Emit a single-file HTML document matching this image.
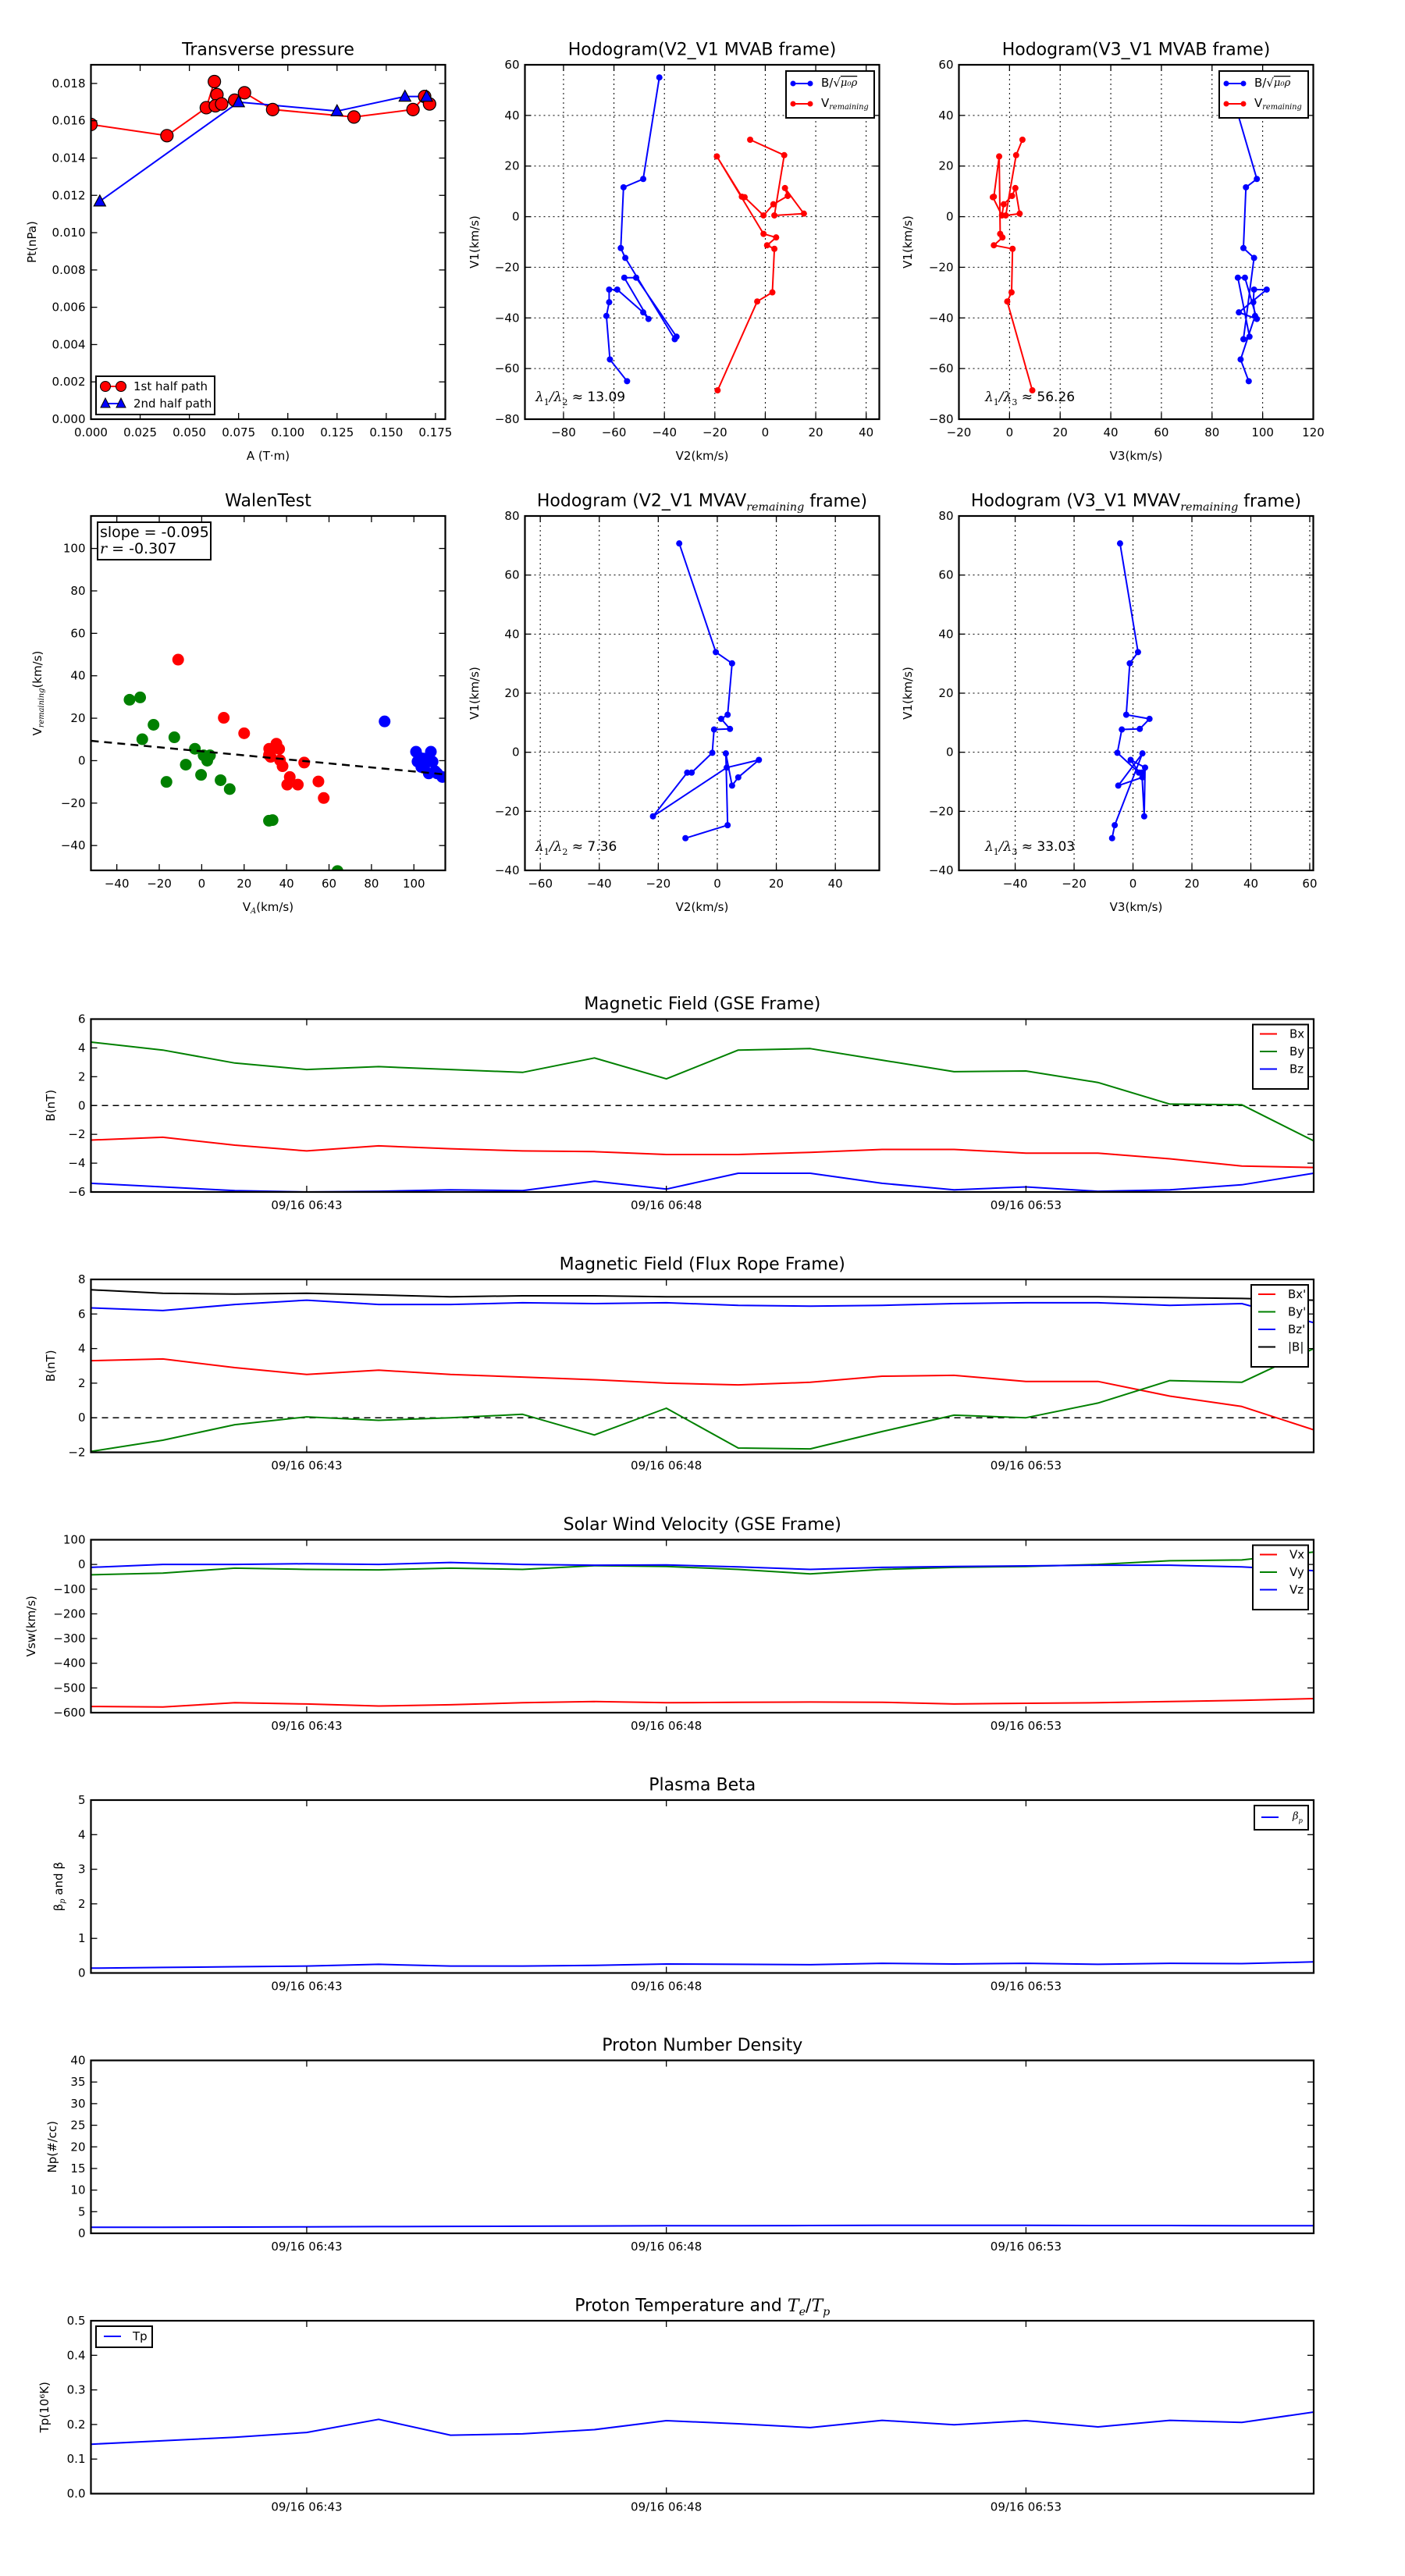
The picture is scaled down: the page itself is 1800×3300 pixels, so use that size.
<!DOCTYPE html>
<html><head><meta charset="utf-8"><title>Flux rope analysis</title>
<style>
html,body{margin:0;padding:0;background:#fff;}
svg{display:block;font-family:"DejaVu Sans","Liberation Sans",sans-serif;}
</style></head>
<body>
<svg id="fig" width="1800" height="3300" viewBox="0 0 1800 3300" xmlns="http://www.w3.org/2000/svg"></svg>
<script>
// ---------------- DATA ----------------
// Transverse pressure
const ptA1 = [0,0.0386,0.0586,0.0627,0.0640,0.0632,0.0664,0.0730,0.0780,0.0923,0.1336,0.1636,0.1695,0.172];
const ptP1 = [0.0158,0.0152,0.0167,0.0181,0.0174,0.0168,0.0169,0.0171,0.0175,0.0166,0.0162,0.0166,0.0173,0.0169];
const ptA2 = [0.0045,0.075,0.125,0.1595,0.1705,0.172];
const ptP2 = [0.01168,0.0170,0.01652,0.0173,0.0173,0.0170];
// Hodogram MVAB
const mvabB2 = [-42,-48.4,-56.2,-57.3,-55.5,-35.9,-35.2,-51.2,-55.9,-46.3,-48.4,-58.7,-61.9,-61.9,-63,-61.6,-54.8];
const mvabB1 = [55,14.9,11.6,-12.4,-16.3,-48.4,-47.4,-24.1,-24.1,-40.4,-37.8,-28.8,-28.8,-33.8,-39.2,-56.4,-65];
const mvabB3 = [86,97.7,93.4,92.4,96.6,92.4,94.8,90.2,93,97.7,90.6,101.6,96.6,96.3,97,91.3,94.5];
const mvabV2 = [-6,7.5,3.6,15.3,7.8,8.9,3.2,-0.7,-8.2,-9.3,-19.2,-0.7,4.3,0.7,3.6,2.8,-3.2,-18.9];
const mvabV1 = [30.4,24.3,0.5,1.2,11.3,8.2,4.9,0.5,7.7,7.9,23.8,-6.8,-8.2,-11.3,-12.7,-29.9,-33.5,-68.6];
const mvabV3 = [5.1,2.6,-1.5,4,2.3,1,-2.3,-3,-6.6,-6.2,-4.1,-3.7,-2.8,-6.2,1.2,0.8,-0.9,9];
// Walen test
const walGx = [-34,-29,-28,-22.7,-12.9,-16.6,-7.5,-3.2,-0.3,0.9,2.6,3.9,8.9,13.2,31.7,33.4,64];
const walGy = [28.7,29.8,10.1,16.9,11,-10,-1.9,5.6,-6.7,2.5,0,2.5,-9.2,-13.4,-28.3,-28,-52];
const walRx = [-11.1,10.4,20,31.8,32.2,31.7,32.5,35.2,36.5,36.9,38.1,41.5,40.3,45.3,48.3,55,57.5];
const walRy = [47.6,20.2,12.9,5.6,4.2,2.7,1.8,8,5.5,0.2,-2.6,-7.7,-11.3,-11.3,-0.9,-9.8,-17.6];
const walBx = [86.2,101,102.5,101.7,104.5,108,108.8,110,111,113.4,107,103.5,105];
const walBy = [18.5,4.2,1.5,-0.4,1,4.2,-0.5,-5,-6,-7.7,-6,-3,-2];
const walSlope = -0.095, walIntercept = 4.4;
// Hodogram MVAV
const mvavV2 = [-12.9,-0.5,5,3.5,1.3,4.3,-1.1,-1.7,-8.7,-10.2,-21.8,3.2,14.1,7.1,5,2.9,3.5,-10.8];
const mvavV1 = [70.7,33.9,30.1,12.7,11.3,7.9,7.7,-0.2,-6.9,-6.9,-21.7,-5.2,-2.6,-8.5,-11.3,-0.4,-24.7,-29.1];
const mvavV3 = [-4.4,1.7,-1.1,-2.3,5.6,2.3,-3.8,-5.3,2,3,3.8,4.1,-0.8,3.2,-5,3.2,-6.2,-7.1];
// Time series (18 samples, one per minute)
const tLabels = ["09/16 06:43","09/16 06:48","09/16 06:53"];
const tTickIdx = [3,8,13];
const gseBx = [-2.4,-2.2,-2.75,-3.15,-2.8,-3.0,-3.15,-3.2,-3.4,-3.4,-3.25,-3.05,-3.05,-3.3,-3.3,-3.7,-4.2,-4.3];
const gseBy = [4.4,3.85,2.95,2.5,2.7,2.5,2.3,3.3,1.85,3.85,3.95,3.15,2.35,2.4,1.6,0.1,0.05,-2.45];
const gseBz = [-5.4,-5.65,-5.9,-6.0,-5.95,-5.85,-5.9,-5.25,-5.8,-4.7,-4.7,-5.4,-5.85,-5.65,-5.95,-5.85,-5.5,-4.7];
const frBx = [3.3,3.4,2.9,2.5,2.75,2.5,2.35,2.2,2.0,1.9,2.05,2.4,2.45,2.1,2.1,1.25,0.65,-0.7];
const frBy = [-1.95,-1.3,-0.4,0.05,-0.15,0.0,0.2,-1.0,0.55,-1.75,-1.8,-0.8,0.15,0.0,0.85,2.15,2.05,4.0];
const frBz = [6.35,6.2,6.55,6.8,6.55,6.55,6.65,6.6,6.65,6.5,6.45,6.5,6.6,6.65,6.65,6.5,6.6,5.5];
const frBt = [7.4,7.2,7.15,7.2,7.1,7.0,7.05,7.05,7.0,7.0,7.0,7.0,7.0,7.0,7.0,6.95,6.9,6.8];
const vx = [-575,-577,-560,-565,-573,-568,-560,-555,-560,-558,-557,-558,-565,-562,-560,-555,-550,-543];
const vy = [-42,-35,-15,-20,-22,-15,-20,-5,-8,-20,-38,-20,-12,-8,0,15,18,50];
const vz = [-12,0,0,3,0,8,0,-3,-2,-10,-20,-12,-8,-6,-3,-3,-10,-25];
const betaP = [0.14,0.16,0.18,0.2,0.25,0.2,0.2,0.22,0.26,0.25,0.24,0.28,0.26,0.28,0.25,0.28,0.27,0.32];
const np = [1.4,1.4,1.45,1.5,1.55,1.6,1.65,1.7,1.75,1.75,1.8,1.85,1.85,1.85,1.8,1.8,1.75,1.75];
const tp = [0.143,0.153,0.163,0.177,0.215,0.169,0.173,0.185,0.211,0.202,0.191,0.212,0.199,0.211,0.193,0.212,0.206,0.236];

// ---------------- HELPERS ----------------
const NS = 'http://www.w3.org/2000/svg';
const fig = document.getElementById('fig');
let clipN = 0;
function mk(tag, attrs, parent) {
  const e = document.createElementNS(NS, tag);
  for (const k in attrs) e.setAttribute(k, attrs[k]);
  (parent || fig).appendChild(e);
  return e;
}
function txt(parent, x, y, s, size, anchor, extra) {
  const t = mk('text', Object.assign({x: x, y: y, 'font-size': size, 'text-anchor': anchor || 'middle', 'dominant-baseline': 'central', fill: '#000'}, extra || {}), parent);
  t.textContent = s;
  return t;
}
function fmtMinus(v, d) { const s = v.toFixed(d); return s.replace('-', '\u2212'); }
function range(a, b, st) { const r = []; for (let v = a; v <= b + 1e-9; v += st) r.push(Math.round(v * 1e6) / 1e6); return r; }

function axes(name, o) {
  const g = mk('g', {});
  
  
  const sx = v => o.x0 + (v - o.xmin) / (o.xmax - o.xmin) * o.w;
  const sy = v => o.y0 + o.h - (v - o.ymin) / (o.ymax - o.ymin) * o.h;
  const id = 'clip' + (clipN++);
  const cp = mk('clipPath', {id: id}, g);
  mk('rect', {x: o.x0, y: o.y0, width: o.w, height: o.h}, cp);
  // grid
  if (o.grid) {
    const gg = mk('g', {stroke: '#000', 'stroke-width': 1, 'stroke-dasharray': '2,4'}, g);
    
    
    o.xt.forEach(v => mk('line', {x1: sx(v), x2: sx(v), y1: o.y0, y2: o.y0 + o.h}, gg));
    o.yt.forEach(v => mk('line', {y1: sy(v), y2: sy(v), x1: o.x0, x2: o.x0 + o.w}, gg));
  }
  const data = mk('g', {'clip-path': 'url(#' + id + ')'}, g);
  
  
  // ticks
  const tk = mk('g', {stroke: '#000', 'stroke-width': 1.3}, g);
  
  
  const xl = mk('g', {}, g);
  
  
  o.xt.forEach((v, i) => {
    const X = sx(v);
    mk('line', {x1: X, x2: X, y1: o.y0 + o.h, y2: o.y0 + o.h - 8}, tk);
    mk('line', {x1: X, x2: X, y1: o.y0, y2: o.y0 + 8}, tk);
    txt(xl, X, o.y0 + o.h + 17, o.xlab ? o.xlab[i] : fmtMinus(v, o.xd || 0), 15);
  });
  const yl = mk('g', {}, g);
  
  
  o.yt.forEach(v => {
    const Y = sy(v);
    mk('line', {y1: Y, y2: Y, x1: o.x0, x2: o.x0 + 8}, tk);
    mk('line', {y1: Y, y2: Y, x1: o.x0 + o.w, x2: o.x0 + o.w - 8}, tk);
    txt(yl, o.x0 - 7, Y, fmtMinus(v, o.yd || 0), 15, 'end');
  });
  return {g: g, data: data, sx: sx, sy: sy, o: o};
}
function frame(ax) {
  const o = ax.o;
  const r = mk('rect', {x: o.x0, y: o.y0, width: o.w, height: o.h, fill: 'none', stroke: '#000', 'stroke-width': 2.2}, ax.g);
  
  
}
function polyline(ax, xs, ys, color, w, name) {
  const pts = xs.map((x, i) => ax.sx(x).toFixed(1) + ',' + ax.sy(ys[i]).toFixed(1)).join(' ');
  const p = mk('polyline', {points: pts, fill: 'none', stroke: color, 'stroke-width': w || 2, 'stroke-linejoin': 'round'}, ax.data);
  
  
  return p;
}
function dots(ax, xs, ys, color, r, name, stroke) {
  const g = mk('g', {fill: color}, ax.data);
  
  
  xs.forEach((x, i) => {
    const c = mk('circle', {cx: ax.sx(x), cy: ax.sy(ys[i]), r: r}, g);
    if (stroke) { c.setAttribute('stroke', stroke); c.setAttribute('stroke-width', 1.2); }
    
    
  });
}
function title(ax, s) {
  const o = ax.o;
  const t = txt(ax.g, o.x0 + o.w / 2, o.y0 - 19, s, 22);
  
  
  return t;
}
function xlabel(ax, s, dy) {
  const o = ax.o;
  const t = txt(ax.g, o.x0 + o.w / 2, o.y0 + o.h + (dy || 47), s, 15);
  
  
  return t;
}
function ylabel(ax, s, x) {
  const o = ax.o;
  const cy = o.y0 + o.h / 2;
  const t = txt(ax.g, x, cy, s, 15, 'middle', {transform: 'rotate(-90 ' + x + ' ' + cy + ')'});
  
  
  return t;
}
function sub(t, s, italic) {
  const ts = mk('tspan', {'baseline-shift': 'sub', 'font-size': '0.65em', 'font-style': italic ? 'italic' : 'normal', 'font-family': '"DejaVu Serif","Liberation Serif",serif'}, t);
  ts.textContent = s;
  const back = mk('tspan', {}, t);
  return back;
}
function lineLegend(ax, x0, y0, x1, entries) {
  const g = mk('g', {}, ax.g);
  
  
  const h = 15 + entries.length * 22.5;
  mk('rect', {x: x0, y: y0, width: x1 - x0, height: h, fill: '#fff', stroke: '#000', 'stroke-width': 2}, g);
  entries.forEach((e, i) => {
    const y = y0 + 12 + 22.5 * i;
    const it = mk('g', {}, g);
    
    
    mk('line', {x1: x0 + 9, x2: x0 + 31, y1: y, y2: y, stroke: e[1], 'stroke-width': 2}, it);
    txt(it, x0 + 47, y, e[0], 15, 'start');
  });
}

// ---------------- ROW 1 ----------------
const R1 = 83, R2 = 661, H = 454, W = 454;
const C1 = 116.5, C2 = 672.5, C3 = 1228.5;

// Transverse pressure
(function () {
  const ax = axes('transverse-pressure-chart', {x0: C1, y0: R1, w: W, h: H, xmin: 0, xmax: 0.18, ymin: 0, ymax: 0.019,
    xt: range(0, 0.175, 0.025), yt: range(0, 0.018, 0.002), xd: 3, yd: 3});
  polyline(ax, ptA1, ptP1, '#f00', 2, 'first-half-line');
  polyline(ax, ptA2, ptP2, '#00f', 2, 'second-half-line');
  dots(ax, ptA1, ptP1, '#f00', 8, 'first-half-marker', '#000');
  const tg = mk('g', {fill: '#00f', stroke: '#000', 'stroke-width': 1.2}, ax.data);
  
  
  ptA2.slice(0, 5).forEach((a, i) => {
    const X = ax.sx(a), Y = ax.sy(ptP2[i]);
    const p = mk('polygon', {points: X + ',' + (Y - 8) + ' ' + (X - 7.5) + ',' + (Y + 6) + ' ' + (X + 7.5) + ',' + (Y + 6)}, tg);
    
    
  });
  frame(ax);
  title(ax, 'Transverse pressure');
  xlabel(ax, 'A (T\u00b7m)');
  ylabel(ax, 'Pt(nPa)', 41);
  const lg = mk('g', {}, ax.g);
  
  
  mk('rect', {x: 123, y: 482, width: 152, height: 49, fill: '#fff', stroke: '#000', 'stroke-width': 2}, lg);
  const e1 = mk('g', {}, lg);
  
  
  mk('line', {x1: 135, x2: 155, y1: 495, y2: 495, stroke: '#f00', 'stroke-width': 2}, e1);
  mk('circle', {cx: 135, cy: 495, r: 6.5, fill: '#f00', stroke: '#000'}, e1);
  mk('circle', {cx: 155, cy: 495, r: 6.5, fill: '#f00', stroke: '#000'}, e1);
  txt(e1, 171, 495, '1st half path', 15, 'start');
  const e2 = mk('g', {}, lg);
  
  
  mk('line', {x1: 135, x2: 155, y1: 517, y2: 517, stroke: '#00f', 'stroke-width': 2}, e2);
  mk('polygon', {points: '135,510 129,522 141,522', fill: '#00f', stroke: '#000'}, e2);
  mk('polygon', {points: '155,510 149,522 161,522', fill: '#00f', stroke: '#000'}, e2);
  txt(e2, 171, 517, '2nd half path', 15, 'start');
})();

function hodoLegend(ax, x0, x1) {
  const lg = mk('g', {}, ax.g);
  
  
  mk('rect', {x: x0, y: 91, width: x1 - x0, height: 60, fill: '#fff', stroke: '#000', 'stroke-width': 2}, lg);
  const e1 = mk('g', {}, lg);
  
  
  mk('line', {x1: x0 + 9, x2: x0 + 31, y1: 107, y2: 107, stroke: '#00f', 'stroke-width': 2}, e1);
  mk('circle', {cx: x0 + 9, cy: 107, r: 3.5, fill: '#00f'}, e1);
  mk('circle', {cx: x0 + 31, cy: 107, r: 3.5, fill: '#00f'}, e1);
  const t1 = txt(e1, x0 + 45, 106, 'B/\u221a', 15, 'start');
  const s1 = mk('tspan', {'font-style': 'italic', 'font-family': '"DejaVu Serif",serif', 'font-size': 13, 'text-decoration': 'overline'}, t1);
  s1.textContent = '\u03bc\u2080\u03c1';
  const e2 = mk('g', {}, lg);
  
  
  mk('line', {x1: x0 + 9, x2: x0 + 31, y1: 133, y2: 133, stroke: '#f00', 'stroke-width': 2}, e2);
  mk('circle', {cx: x0 + 9, cy: 133, r: 3.5, fill: '#f00'}, e2);
  mk('circle', {cx: x0 + 31, cy: 133, r: 3.5, fill: '#f00'}, e2);
  const t2 = txt(e2, x0 + 45, 132, 'V', 15, 'start');
  sub(t2, 'remaining', true);
}
function lamText(ax, x, y, a, b, val) {
  const t = txt(ax.g, x, y, '\u03bb', 17, 'start', {'font-style': 'italic', 'font-family': '"DejaVu Serif",serif'});
  
  
  const s = sub(t, a, false);
  s.textContent = '/\u03bb';
  const s2 = sub(t, b, false);
  s2.setAttribute('font-style', 'normal');
  s2.setAttribute('font-family', '"DejaVu Sans",sans-serif');
  s2.textContent = ' \u2248 ' + val;
}

// Hodogram V2_V1 MVAB
(function () {
  const ax = axes('hodogram-v2-v1-mvab', {x0: C2, y0: R1, w: W, h: H, xmin: -95.3, xmax: 45.2, ymin: -80, ymax: 60,
    xt: range(-80, 40, 20), yt: range(-80, 60, 20), grid: true});
  polyline(ax, mvabB2, mvabB1, '#00f', 2, 'b-alfven-path');
  dots(ax, mvabB2, mvabB1, '#00f', 4, 'b-alfven');
  polyline(ax, mvabV2, mvabV1, '#f00', 2, 'v-remaining-path');
  dots(ax, mvabV2, mvabV1, '#f00', 4, 'v-remaining');
  frame(ax);
  title(ax, 'Hodogram(V2_V1 MVAB frame)');
  xlabel(ax, 'V2(km/s)');
  ylabel(ax, 'V1(km/s)', 608);
  hodoLegend(ax, 1007, 1120);
  lamText(ax, 686, 509, '1', '2', '13.09');
})();
// Hodogram V3_V1 MVAB
(function () {
  const ax = axes('hodogram-v3-v1-mvab', {x0: C3, y0: R1, w: W, h: H, xmin: -20, xmax: 120, ymin: -80, ymax: 60,
    xt: range(-20, 120, 20), yt: range(-80, 60, 20), grid: true});
  polyline(ax, mvabB3, mvabB1, '#00f', 2, 'b-alfven-path');
  dots(ax, mvabB3, mvabB1, '#00f', 4, 'b-alfven');
  polyline(ax, mvabV3, mvabV1, '#f00', 2, 'v-remaining-path');
  dots(ax, mvabV3, mvabV1, '#f00', 4, 'v-remaining');
  frame(ax);
  title(ax, 'Hodogram(V3_V1 MVAB frame)');
  xlabel(ax, 'V3(km/s)');
  ylabel(ax, 'V1(km/s)', 1163);
  hodoLegend(ax, 1562, 1676);
  lamText(ax, 1262, 509, '1', '3', '56.26');
})();

// ---------------- ROW 2 ----------------
(function () {
  const ax = axes('walen-test-chart', {x0: C1, y0: R2, w: W, h: H, xmin: -52.2, xmax: 114.8, ymin: -51.7, ymax: 115.3,
    xt: range(-40, 100, 20), yt: range(-40, 100, 20)});
  dots(ax, walGx, walGy, '#008000', 7.5, 'first-segment');
  dots(ax, walRx, walRy, '#f00', 7.5, 'middle-segment');
  dots(ax, walBx, walBy, '#00f', 7.5, 'last-segment');
  const fx = [-52.2, 114.8];
  const fy = fx.map(x => walIntercept + walSlope * x);
  const fl = polyline(ax, fx, fy, '#000', 2.5, 'fit-line');
  fl.setAttribute('stroke-dasharray', '10,7');
  frame(ax);
  title(ax, 'WalenTest');
  const xt = xlabel(ax, 'V', 47);
  sub(xt, 'A', true).textContent = '(km/s)';
  const yt = ylabel(ax, 'V', 48);
  sub(yt, 'remaining', true).textContent = '(km/s)';
  const bx = mk('g', {}, ax.g);
  
  
  mk('rect', {x: 125, y: 669, width: 145, height: 48, fill: '#fff', stroke: '#000', 'stroke-width': 2}, bx);
  txt(bx, 128, 682, 'slope = -0.095', 19, 'start');
  const r = txt(bx, 128, 703, 'r', 19, 'start', {'font-style': 'italic', 'font-family': '"DejaVu Serif",serif'});
  const rr = mk('tspan', {'font-style': 'normal', 'font-family': '"DejaVu Sans",sans-serif'}, r);
  rr.textContent = ' = -0.307';
})();
(function () {
  const ax = axes('hodogram-v2-v1-mvav', {x0: C2, y0: R2, w: W, h: H, xmin: -65.2, xmax: 54.9, ymin: -40, ymax: 80,
    xt: range(-60, 40, 20), yt: range(-40, 80, 20), grid: true});
  polyline(ax, mvavV2, mvavV1, '#00f', 2, 'b-alfven-path');
  dots(ax, mvavV2, mvavV1, '#00f', 4, 'b-alfven');
  frame(ax);
  const t = title(ax, 'Hodogram (V2_V1 MVAV');
  sub(t, 'remaining', true).textContent = ' frame)';
  xlabel(ax, 'V2(km/s)');
  ylabel(ax, 'V1(km/s)', 608);
  lamText(ax, 686, 1085, '1', '2', '7.36');
})();
(function () {
  const ax = axes('hodogram-v3-v1-mvav', {x0: C3, y0: R2, w: W, h: H, xmin: -59.1, xmax: 61.2, ymin: -40, ymax: 80,
    xt: range(-40, 60, 20), yt: range(-40, 80, 20), grid: true});
  polyline(ax, mvavV3, mvavV1, '#00f', 2, 'b-alfven-path');
  dots(ax, mvavV3, mvavV1, '#00f', 4, 'b-alfven');
  frame(ax);
  const t = title(ax, 'Hodogram (V3_V1 MVAV');
  sub(t, 'remaining', true).textContent = ' frame)';
  xlabel(ax, 'V3(km/s)');
  ylabel(ax, 'V1(km/s)', 1163);
  lamText(ax, 1262, 1085, '1', '3', '33.03');
})();

// ---------------- TIME SERIES ----------------
const TX0 = 116.5, TW = 1566.5, TH = 221.5;
const idx = gseBx.map((_, i) => i);
function tsAxes(name, top, ymin, ymax, yt, yd) {
  return axes(name, {x0: TX0, y0: top, w: TW, h: TH, xmin: 0, xmax: 17, ymin: ymin, ymax: ymax,
    xt: tTickIdx, xlab: tLabels, yt: yt, yd: yd || 0});
}
function zeroLine(ax) {
  const l = polyline(ax, [0, 17], [0, 0], '#000', 1.5, 'zero-line');
  l.setAttribute('stroke-dasharray', '8,6');
}
(function () {
  const ax = tsAxes('magnetic-field-gse-chart', 1305.5, -6, 6, range(-6, 6, 2));
  zeroLine(ax);
  polyline(ax, idx, gseBx, '#f00', 2, 'bx-line');
  polyline(ax, idx, gseBy, '#008000', 2, 'by-line');
  polyline(ax, idx, gseBz, '#00f', 2, 'bz-line');
  frame(ax);
  title(ax, 'Magnetic Field (GSE Frame)');
  ylabel(ax, 'B(nT)', 65);
  lineLegend(ax, 1605, 1312.5, 1676, [['Bx', '#f00'], ['By', '#008000'], ['Bz', '#00f']]);
})();
(function () {
  const top = 1639;
  const ax = tsAxes('magnetic-field-flux-rope-chart', top, -2, 8, range(-2, 8, 2));
  zeroLine(ax);
  polyline(ax, idx, frBx, '#f00', 2, 'bx-prime-line');
  polyline(ax, idx, frBy, '#008000', 2, 'by-prime-line');
  polyline(ax, idx, frBz, '#00f', 2, 'bz-prime-line');
  polyline(ax, idx, frBt, '#000', 2, 'b-total-line');
  frame(ax);
  title(ax, 'Magnetic Field (Flux Rope Frame)');
  ylabel(ax, 'B(nT)', 65);
  lineLegend(ax, 1603, top + 7, 1676, [["Bx'", '#f00'], ["By'", '#008000'], ["Bz'", '#00f'], ['|B|', '#000']]);
})();
(function () {
  const top = 1972.5;
  const ax = tsAxes('solar-wind-velocity-chart', top, -600, 100, range(-600, 100, 100));
  polyline(ax, idx, vx, '#f00', 2, 'vx-line');
  polyline(ax, idx, vy, '#008000', 2, 'vy-line');
  polyline(ax, idx, vz, '#00f', 2, 'vz-line');
  frame(ax);
  title(ax, 'Solar Wind Velocity (GSE Frame)');
  ylabel(ax, 'Vsw(km/s)', 40);
  lineLegend(ax, 1605, top + 7, 1676, [['Vx', '#f00'], ['Vy', '#008000'], ['Vz', '#00f']]);
})();
(function () {
  const top = 2306;
  const ax = tsAxes('plasma-beta-chart', top, 0, 5, range(0, 5, 1));
  polyline(ax, idx, betaP, '#00f', 2, 'beta-p-line');
  frame(ax);
  title(ax, 'Plasma Beta');
  const yl = ylabel(ax, '\u03b2', 75);
  sub(yl, 'p', true).textContent = ' and \u03b2';
  const lg = mk('g', {}, ax.g);
  
  
  mk('rect', {x: 1607, y: top + 7, width: 69, height: 31, fill: '#fff', stroke: '#000', 'stroke-width': 2}, lg);
  mk('line', {x1: 1616, x2: 1638, y1: top + 22, y2: top + 22, stroke: '#00f', 'stroke-width': 2}, lg);
  const lt = txt(lg, 1656, top + 21, '\u03b2', 13, 'start', {'font-style': 'italic', 'font-family': '"DejaVu Serif",serif'});
  sub(lt, 'p', true);
})();
(function () {
  const top = 2639.5;
  const ax = tsAxes('proton-density-chart', top, 0, 40, range(0, 40, 5));
  polyline(ax, idx, np, '#00f', 2, 'np-line');
  frame(ax);
  title(ax, 'Proton Number Density');
  ylabel(ax, 'Np(#/cc)', 67);
})();
(function () {
  const top = 2973;
  const ax = tsAxes('proton-temperature-chart', top, 0, 0.5, range(0, 0.5, 0.1), 1);
  polyline(ax, idx, tp, '#00f', 2, 'tp-line');
  frame(ax);
  const t = title(ax, 'Proton Temperature and ');
  const m = mk('tspan', {'font-style': 'italic', 'font-family': '"DejaVu Serif",serif'}, t);
  m.textContent = 'T';
  sub(t, 'e', true).textContent = '/';
  const m2 = mk('tspan', {'font-style': 'italic', 'font-family': '"DejaVu Serif",serif'}, t);
  m2.textContent = 'T';
  sub(t, 'p', true);
  ylabel(ax, 'Tp(10\u2076K)', 57);
  const lg = mk('g', {}, ax.g);
  
  
  mk('rect', {x: 123, y: top + 7, width: 72, height: 27, fill: '#fff', stroke: '#000', 'stroke-width': 2}, lg);
  mk('line', {x1: 133, x2: 155, y1: top + 20, y2: top + 20, stroke: '#00f', 'stroke-width': 2}, lg);
  txt(lg, 170, top + 20, 'Tp', 15, 'start');
})();
</script>
</body></html>
